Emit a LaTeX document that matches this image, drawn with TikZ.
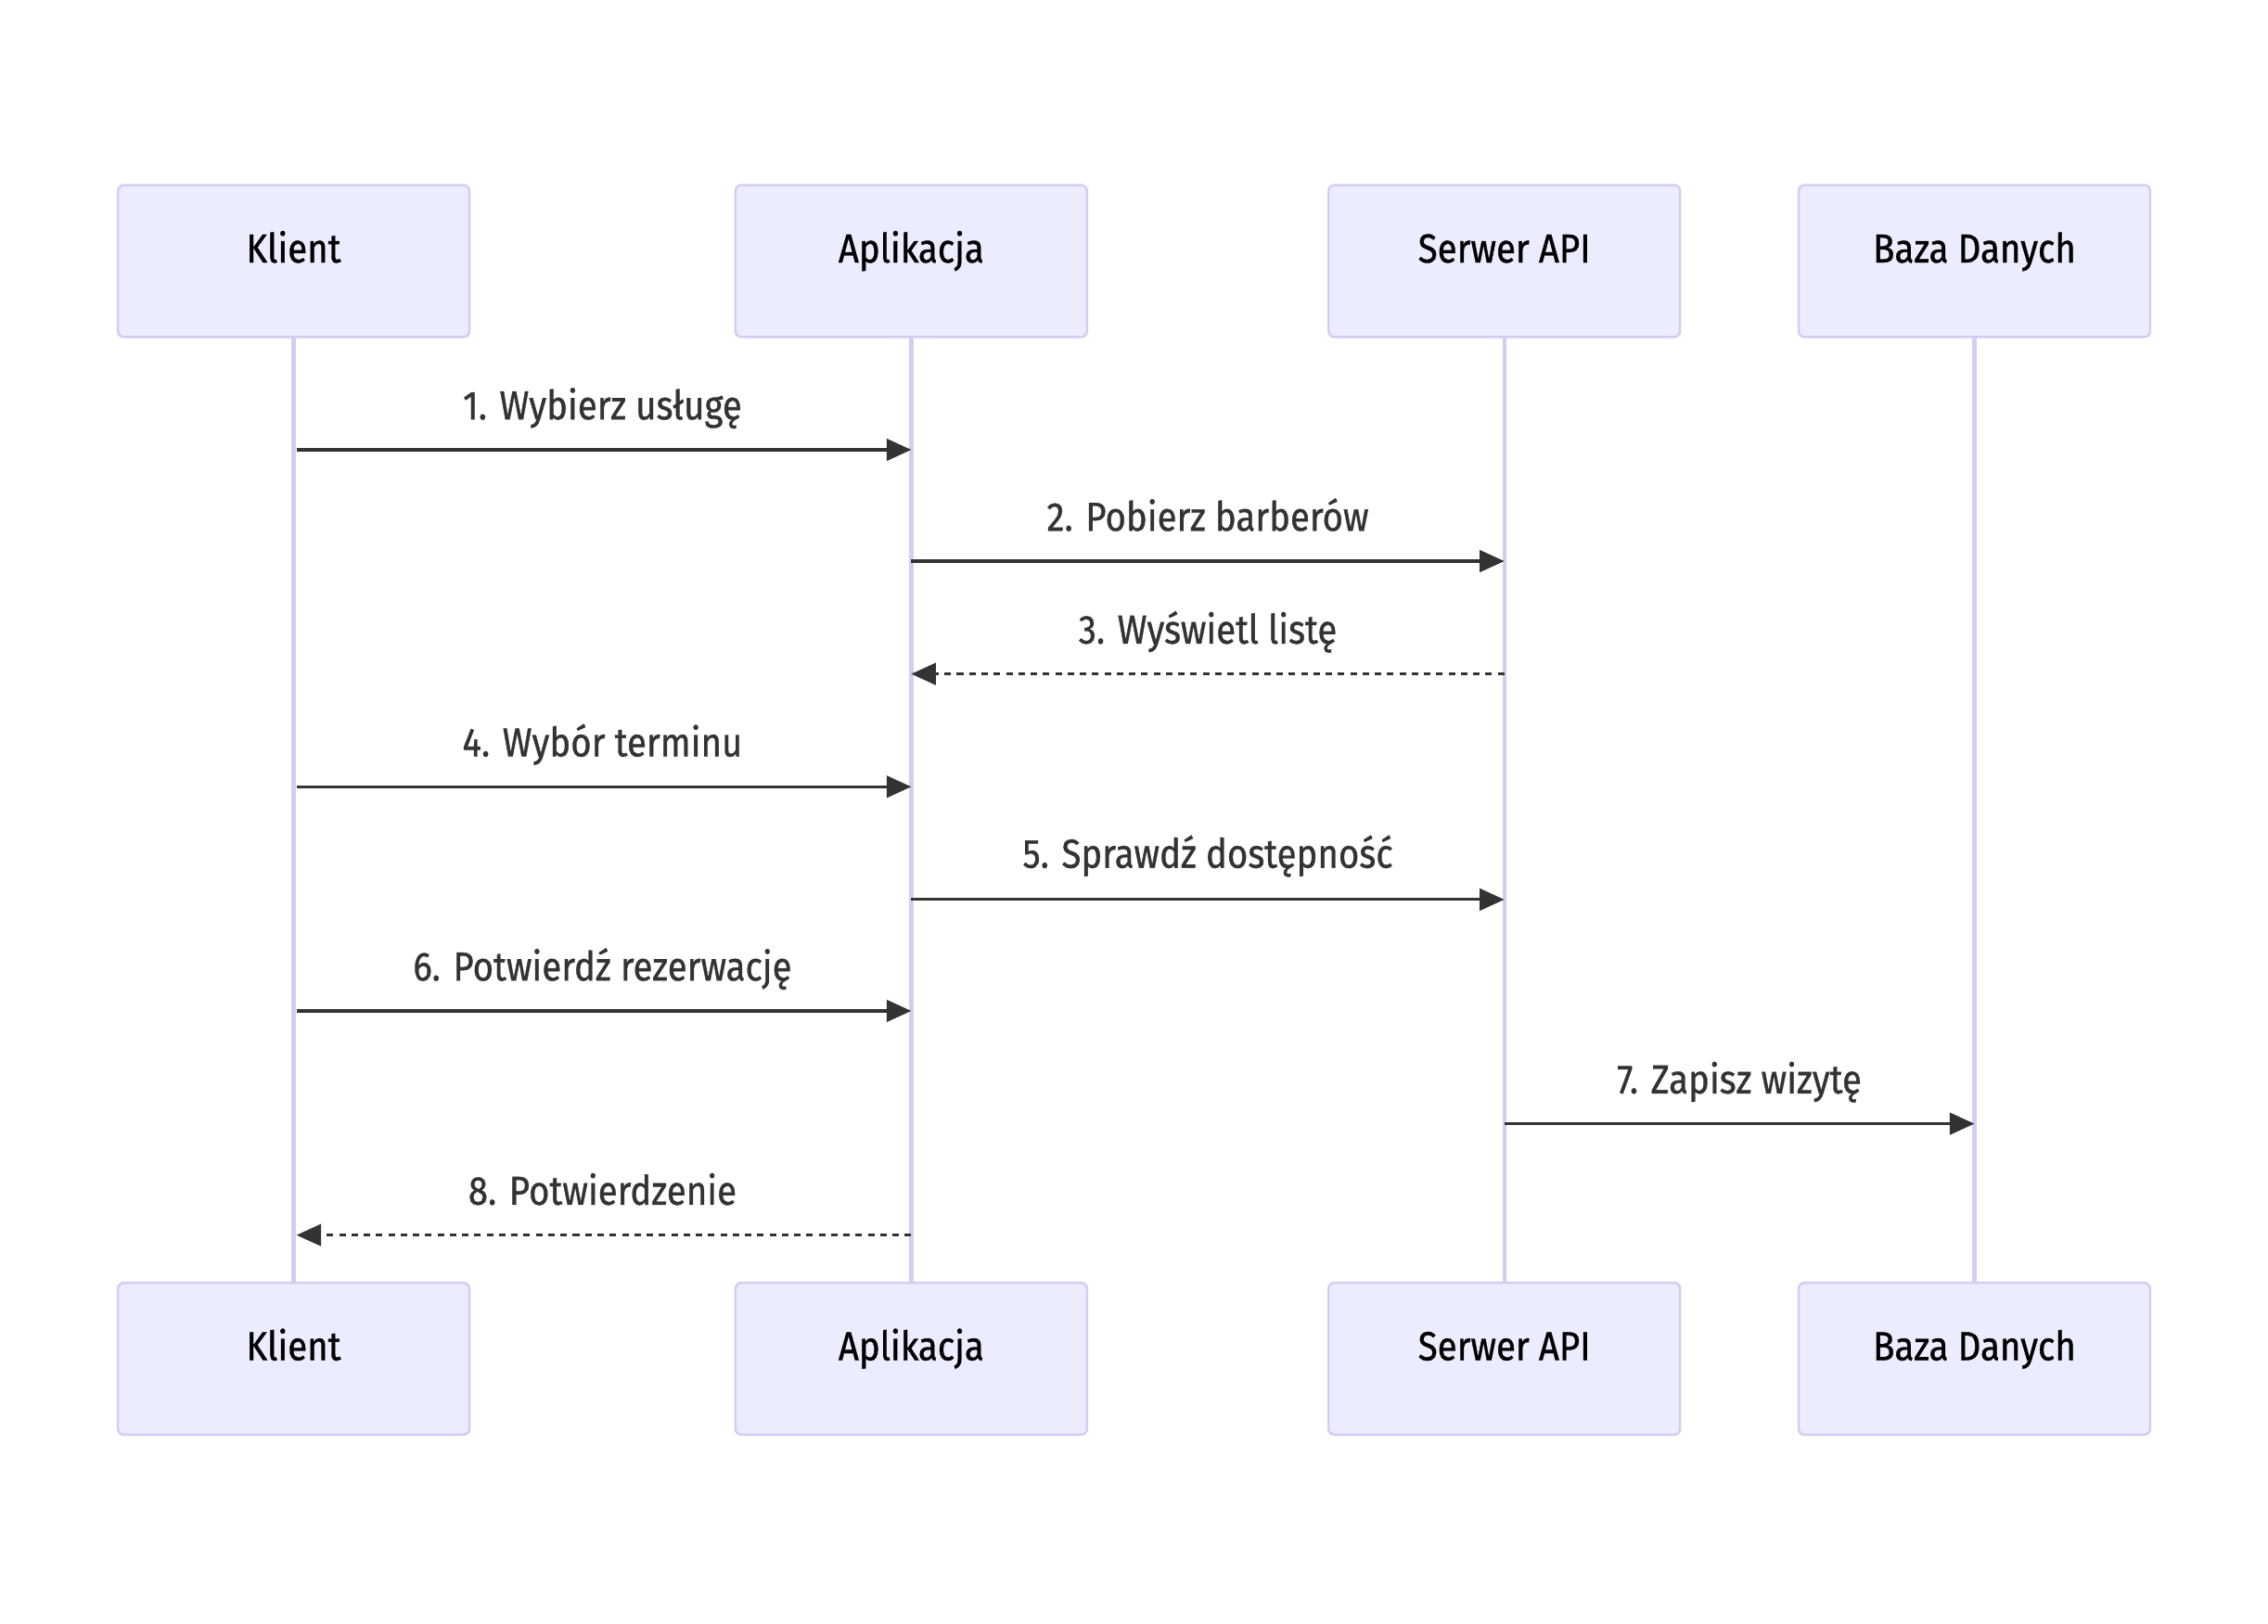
\documentclass[tikz,border=0pt]{standalone}
\usepackage{fontspec}
\setmainfont{Fira Sans}[FakeStretch=0.88,FakeBold=0.8]
\usetikzlibrary{arrows.meta}
\definecolor{actfill}{HTML}{ECECFF}
\definecolor{actline}{HTML}{D6CCF2}
\definecolor{msg}{HTML}{333333}
\begin{document}
\begin{tikzpicture}[x=1pt,y=-1pt,
  actor/.style={draw=actline,fill=actfill,line width=1.6pt,rounded corners=4pt,
    minimum width=243pt,minimum height=105pt,inner sep=0pt,
    text height=19pt,text depth=17pt,
    font=\fontsize{28}{32}\selectfont,text=black},
  life/.style={draw=actline,line width=2.8pt},
  msgline/.style={draw=msg,line width=2pt,-{Triangle[length=17pt,width=15pt]}},
  reply/.style={msgline,dash pattern=on 4.5pt off 4pt},
  lbl/.style={font=\fontsize{28}{32}\selectfont,text=msg,inner sep=0pt,anchor=base}
]
\useasboundingbox[fill=white] (0,0) rectangle (1568,1122.3);
% lifelines
\foreach \n/\x in {k/203,a/630,s/1040,b/1365}{
  \draw[life] (\x,233) -- (\x,887);
}
% actors
\node[actor] (kt) at (203,180.5) {Klient};
\node[actor] (at) at (630,180.5) {Aplikacja};
\node[actor] (st) at (1040,180.5) {Serwer API};
\node[actor] (bt) at (1365,180.5) {Baza Danych};
\node[actor] (kb) at (203,939.5) {Klient};
\node[actor] (ab) at (630,939.5) {Aplikacja};
\node[actor] (sb) at (1040,939.5) {Serwer API};
\node[actor] (bb) at (1365,939.5) {Baza Danych};
% coordinates on lifelines
\foreach \y [count=\i] in {311,388,466,544,622,699,777,854}{
  \coordinate (k\i) at (205,\y);
  \coordinate (a\i) at (630,\y);
  \coordinate (s\i) at (1040,\y);
  \coordinate (b\i) at (1365,\y);
}
\draw[msgline] (k1) -- (a1);
\node[lbl] at (416.5,290) {1. Wybierz usługę};
\draw[msgline] (a2) -- (s2);
\node[lbl] at (835,367) {2. Pobierz barberów};
\draw[reply] (s3) -- (a3);
\node[lbl] at (835,445) {3. Wyświetl listę};
\draw[msgline] (k4) -- (a4);
\node[lbl] at (416.5,523) {4. Wybór terminu};
\draw[msgline] (a5) -- (s5);
\node[lbl] at (835,600) {5. Sprawdź dostępność};
\draw[msgline] (k6) -- (a6);
\node[lbl] at (416.5,678) {6. Potwierdź rezerwację};
\draw[msgline] (s7) -- (b7);
\node[lbl] at (1202.5,756) {7. Zapisz wizytę};
\draw[reply] (a8) -- (k8);
\node[lbl] at (416.5,833) {8. Potwierdzenie};
\end{tikzpicture}
\end{document}
